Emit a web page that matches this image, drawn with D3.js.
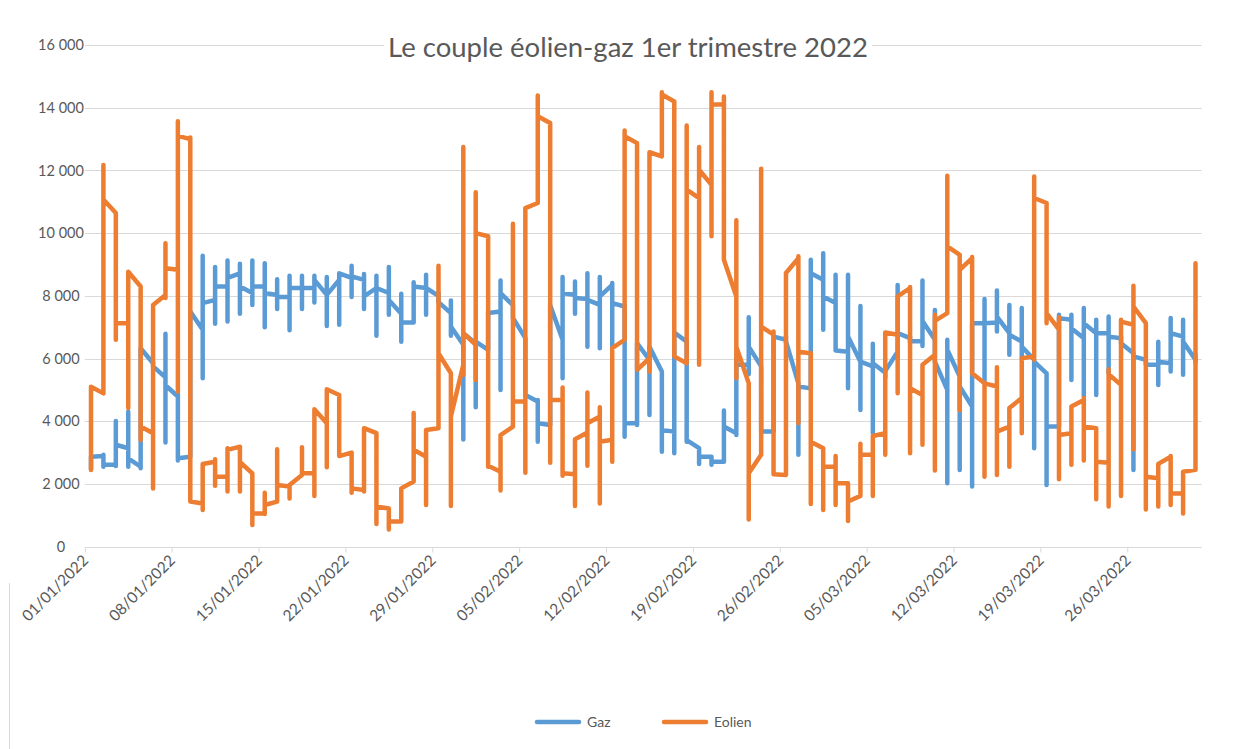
<!DOCTYPE html>
<html><head><meta charset="utf-8">
<script src="https://cdn.jsdelivr.net/npm/d3@7"></script>
<style>
body{margin:0;background:#fff;}
svg{display:block;font-family:Lato,"Open Sans",sans-serif;}
</style>
</head><body>
<svg id="chart" width="1239" height="749"></svg>
<script>
// ---------- data ----------
const title = "Le couple éolien-gaz 1er trimestre 2022";
const seriesNames = ["Gaz", "Eolien"];
const startDay = Date.UTC(2022, 0, 1);
const endDay = Date.UTC(2022, 3, 1);
const tickLabels = ["01/01/2022","08/01/2022","15/01/2022","22/01/2022","29/01/2022","05/02/2022","12/02/2022","19/02/2022","26/02/2022","05/03/2022","12/03/2022","19/03/2022","26/03/2022"];
const yTicks = [0,2000,4000,6000,8000,10000,12000,14000,16000];

// Gaz: per day first / lowest / highest / last value
const gazFirst = [2470,2890,2610,3140,2550,5850,5400,4790,2870,6920,7870,8300,8720,8090,8300,8030,7960,8250,8250,8030,8510,8570,8510,8250,8090,7430,7150,8250,8000,7450,6440,6490,6280,7500,7700,6650,4630,3880,6600,8030,7900,7710,8350,7660,3940,5960,5590,3670,6540,3140,2870,2710,3620,5800,5750,3670,6600,5210,5050,8510,7770,6220,5900,5750,5550,6220,6650,6550,6600,5000,5430,4470,7130,7150,6810,6540,5960,5530,3830,7240,6650,6810,6810,6650,6170,5960,5800,5850,6700,5960];
const gazLow   = [2470,2550,2570,2550,2500,5750,3320,2750,2870,5370,7110,7180,7430,7710,7000,7580,6900,7580,7790,7040,7080,7960,7580,6730,7400,6540,7150,7400,7800,6730,3420,4450,6280,5000,7300,4840,3350,3880,5370,7430,6380,6330,6380,3510,3880,4200,3030,2980,3350,2640,2610,2710,3560,5500,3670,3670,6500,2930,5050,6920,6280,5050,4360,3620,5400,6000,6500,6400,5950,2020,2450,1920,5210,6860,6120,6010,3140,1970,3830,5320,4790,4840,5530,6500,2450,5800,5160,5590,5480,5900];
const gazHigh  = [2870,2930,4010,4300,6330,5900,6790,4900,7500,9280,8920,9130,9020,9130,9040,8530,8640,8640,8640,8600,8700,8960,8700,8640,8920,8070,8430,8670,8100,7850,6810,6540,7450,8490,7700,6650,4680,7700,8600,8460,8720,8600,8410,7660,6490,6380,5590,6830,6540,3140,2870,4340,6000,7320,5750,6700,6700,5210,9150,9360,8670,8670,7680,6470,5700,8350,6700,8490,7550,6600,5430,7130,7900,8170,7710,7610,5960,5530,7400,7400,7610,7240,7340,6700,6170,5960,6540,7290,7240,6100];
const gazLast  = [2870,2610,3250,2820,6330,5750,5150,2820,7500,7770,8300,8570,8300,8300,8090,7960,8250,8250,8510,8030,8720,8620,7980,8250,7870,7150,8300,8250,7800,7020,6810,6540,7450,8090,7300,4840,3940,7700,8090,7930,7870,7980,7770,3940,6490,6380,3720,6830,3400,2870,2710,3830,5800,6380,3670,6700,6550,5110,8720,7980,6260,6700,5900,5850,5600,6810,6550,7200,5900,6280,5110,7130,7130,7340,6760,6380,5900,3830,7290,6970,7130,6810,6700,6490,6070,5800,5900,6810,6540,5900];

// Eolien: per day first / lowest / highest / last value
const eolFirst = [2450,4890,10640,7130,8300,3620,8030,8830,13000,1380,2710,2230,3190,2340,1060,1440,1920,2290,2340,3940,4840,3000,1810,3620,1220,800,2080,2870,3780,5530,5800,6440,9900,2390,3830,4630,10960,13510,4680,2310,3640,4150,3410,6600,12870,6010,12450,14200,5850,11120,11540,14100,7980,5210,2930,6760,2290,9200,6170,3140,2550,2020,1620,2930,3620,6760,8250,4840,6120,7450,9310,9200,5210,5110,3830,4740,6070,10960,6920,3620,4680,3780,2680,5160,7080,7130,2180,2870,1700,2450];
const eolLow   = [2450,4890,6600,4420,3400,1860,7930,4950,1490,1170,1940,1760,1760,690,1040,1440,1540,2290,1620,2530,2890,1720,1760,720,550,800,2080,1330,3780,1300,5480,5320,2550,1790,3830,2360,10960,2680,2260,1300,2580,1380,2710,6600,5640,5590,12450,6070,5850,5800,9900,9150,5370,870,2930,2310,2290,3940,1360,1170,1330,820,1620,1620,2930,4890,2980,3250,2430,7450,4360,5530,2230,2290,2550,3620,5960,7130,2150,2610,2750,1510,1280,1620,3110,1190,1280,1330,1060,2450];
const eolHigh  = [5100,12170,10640,8770,8300,7710,9680,13570,13050,2640,2790,3140,3190,2340,1720,3110,1920,3170,4380,5020,4840,3000,3780,3620,1220,1860,4260,3720,8960,5530,12750,11300,9900,3560,10300,10800,14390,13510,5080,3430,4920,4450,6330,13270,12870,12580,14490,14200,13430,12750,14490,14360,10410,5210,12050,6860,8730,9260,6170,3140,2890,2020,3280,3530,6830,7980,8280,5800,7400,11830,9310,9240,5210,5720,4420,6010,11810,10960,7320,4470,4740,3780,5660,7240,8320,7130,2640,2890,2360,9040];
const eolLast  = [5100,11070,7130,8770,3830,7710,8880,13100,1440,2640,2230,3090,2700,1060,1330,1970,1970,2340,4380,5020,2890,1860,3780,1280,800,1860,3090,3720,6170,4150,6810,10000,2580,3560,4630,10800,13730,4680,2340,3430,3940,3350,6330,13090,5640,12580,14420,6070,11390,12020,14100,9150,6380,2340,7020,2310,8730,6220,3350,2550,2020,1440,2930,3530,6830,7980,5050,5800,7200,9580,8830,5530,5210,3670,4420,6010,11120,7450,3560,4470,3830,2710,5500,7180,7660,2230,2640,1700,2390,9040];

// ---------- drawing ----------
const svg = d3.select("#chart");
const colors = {Gaz: "#5B9BD5", Eolien: "#ED7D31"};
const textColor = "#595959";
const gridColor = "#d9d9d9";

const x = d3.scaleUtc().domain([new Date(startDay), new Date(endDay)]).range([84.8, 1201.7]);
const y = d3.scaleLinear().domain([0, 16000]).range([546.7, 45]);
const days = d3.utcDay.range(new Date(startDay), new Date(endDay));
const dayCenter = d => x(d3.utcHour.offset(d, 12));

// partial frame line visible at the lower left of the picture
svg.append("line").attr("x1", 9.5).attr("x2", 9.5).attr("y1", 583).attr("y2", 749)
  .attr("stroke", gridColor).attr("stroke-width", 1);

// gridlines
svg.append("g").selectAll("line").data(yTicks.filter(v => v > 0)).join("line")
  .attr("x1", x.range()[0]).attr("x2", x.range()[1])
  .attr("y1", d => Math.round(y(d)) + 0.5).attr("y2", d => Math.round(y(d)) + 0.5)
  .attr("stroke", gridColor).attr("stroke-width", 1);

// y labels
const fmt = d3.formatLocale({decimal: ",", thousands: "\u00a0", grouping: [3], currency: ["", "€"]}).format(",d");
svg.append("g").selectAll("text").data(yTicks).join("text")
  .attr("x", 61).attr("y", d => y(d)).attr("dy", "0.35em")
  .attr("text-anchor", "middle").attr("fill", textColor).attr("font-size", 14.5)
  .text(d => fmt(d));

// x axis
const tickDates = tickLabels.map(s => { const [dd, mm, yy] = s.split("/").map(Number); return new Date(Date.UTC(yy, mm - 1, dd)); });
const axis = d3.axisBottom(x).tickValues(tickDates).tickSize(5).tickFormat((d, i) => tickLabels[i]);
const gx = svg.append("g").attr("transform", `translate(0,${Math.round(y(0)) + 0.5})`).call(axis);
gx.select(".domain").attr("stroke", gridColor).attr("d", `M${x.range()[0]},0H${x.range()[1]}`);
gx.selectAll(".tick line").attr("stroke", gridColor);
gx.selectAll(".tick text")
  .attr("fill", textColor).attr("font-size", 15.5).attr("font-family", "Lato, 'Open Sans', sans-serif")
  .attr("text-anchor", "end").attr("dy", null).attr("y", 0)
  .attr("transform", "translate(4,14) rotate(-45)");

// series lines
function pointsFor(first, low, high, last) {
  const pts = [];
  days.forEach((d, i) => {
    const cx = dayCenter(d);
    [first[i], low[i], high[i], last[i]].forEach(v => pts.push([cx, y(v)]));
  });
  return pts;
}
const line = d3.line();
const series = [
  {name: "Gaz", pts: pointsFor(gazFirst, gazLow, gazHigh, gazLast)},
  {name: "Eolien", pts: pointsFor(eolFirst, eolLow, eolHigh, eolLast)}
];
svg.append("g").selectAll("path").data(series).join("path")
  .attr("d", s => line(s.pts))
  .attr("fill", "none").attr("stroke", s => colors[s.name])
  .attr("stroke-width", 4.5).attr("stroke-linejoin", "round").attr("stroke-linecap", "round");

// title (white box behind it, over the top gridline)
const tg = svg.append("g");
const t = tg.append("text").attr("x", 628).attr("y", 57).attr("text-anchor", "middle")
  .attr("fill", textColor).attr("font-size", 27.5).text(title);
const bb = t.node().getBBox();
tg.insert("rect", "text").attr("x", bb.x - 4).attr("y", bb.y + 3).attr("width", bb.width + 8).attr("height", bb.height - 3)
  .attr("fill", "#fff");

// legend
const legendItems = [{name: "Gaz", x: 537}, {name: "Eolien", x: 664}];
const lg = svg.append("g");
legendItems.forEach(it => {
  lg.append("line").attr("x1", it.x).attr("x2", it.x + 42).attr("y1", 722).attr("y2", 722)
    .attr("stroke", colors[it.name]).attr("stroke-width", 4.5).attr("stroke-linecap", "round");
  lg.append("text").attr("x", it.x + 50).attr("y", 722).attr("dy", "0.35em")
    .attr("fill", textColor).attr("font-size", 14).text(it.name);
});
</script>
</body></html>
